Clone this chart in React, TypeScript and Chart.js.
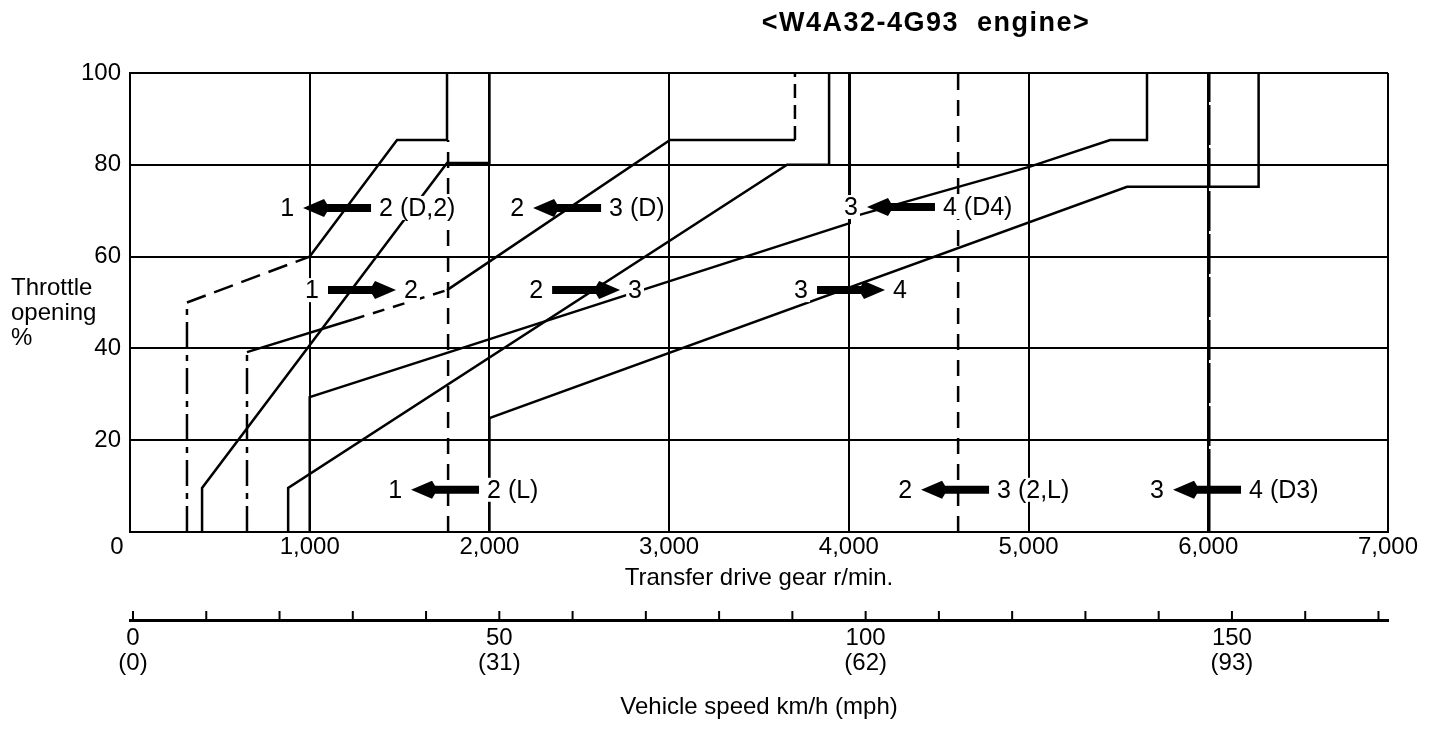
import React, { useEffect, useRef } from 'react';
import { Chart, registerables } from 'chart.js';

Chart.register(...registerables);

// ---- Axis ticks ----
const rpmTicks = [0, 1000, 2000, 3000, 4000, 5000, 6000, 7000];
const throttleTicks = [0, 20, 40, 60, 80, 100];
const speedTicksKmh = [0, 10, 20, 30, 40, 50, 60, 70, 80, 90, 100, 110, 120, 130, 140, 150, 160, 170];
const speedLabelKmh = [0, 50, 100, 150];
const speedLabelMph = [0, 31, 62, 93];

// ---- Shift lines: transfer drive gear r/min (x) vs throttle opening % (y) ----
const lineA_rpm = [317, 317, 1000, 1486, 1764, 1764];
const lineA_pct = [0, 50, 60, 85.4, 85.4, 100];
const lineB_rpm = [401, 401, 1764, 2000, 2000];
const lineB_pct = [0, 9.6, 80.4, 80.4, 100];
const lineC_rpm = [651, 651, 1240, 1764, 3005, 3700, 3700];
const lineC_pct = [0, 39.2, 46.3, 52.7, 85.4, 85.4, 100];
const lineD_rpm = [1000, 1000, 4005, 4005];
const lineD_pct = [0, 29.4, 67.3, 100];
const lineE_rpm = [880, 880, 3656, 3890, 3890];
const lineE_pct = [0, 9.6, 80, 80, 100];
const lineF_rpm = [4005, 5008, 5454, 5659, 5659];
const lineF_pct = [68.5, 79.6, 85.4, 85.4, 100];
const lineG_rpm = [2000, 2000, 5548, 6280, 6280];
const lineG_pct = [0, 24.8, 75.2, 75.2, 100];
const lineL12_rpm = [1770, 1770];
const lineL12_pct = [0, 85.4];
const line23L_rpm = [4608, 4608];
const line23L_pct = [0, 100];
const line34D3_rpm = [6004, 6004];
const line34D3_pct = [0, 100];

// ---- Shift annotations ----
const noteRpm = [1152, 2432, 4290, 1291, 2538, 4012, 1753, 4591, 5993];
const notePct = [70.6, 70.6, 70.8, 52.7, 52.7, 52.7, 9.2, 9.2, 9.2];
const noteFrom = ['1', '2', '3', '1', '2', '3', '1', '2', '3'];
const noteTo = ['2 (D,2)', '3 (D)', '4 (D4)', '2', '3', '4', '2 (L)', '3 (2,L)', '4 (D3)'];
const noteDir = ['left', 'left', 'left', 'right', 'right', 'right', 'left', 'left', 'left'];

const FONT = "'Liberation Sans', Arial, Helvetica, sans-serif";

const DASH_DOT = [26, 7, 6, 7];
const SOLID: number[] = [];

function drawArrow(ctx: CanvasRenderingContext2D, cx: number, cy: number, dir: string) {
  const len = 68, head = 24, hh = 9, sh = 4;
  const s = dir === 'left' ? -1 : 1;
  const tip = cx + (s * len) / 2;
  const tail = cx - (s * len) / 2;
  const base = tip - s * head;
  ctx.beginPath();
  ctx.moveTo(tail, cy - sh);
  ctx.lineTo(base, cy - sh);
  ctx.lineTo(base + s * 3, cy - hh);
  ctx.lineTo(tip, cy);
  ctx.lineTo(base + s * 3, cy + hh);
  ctx.lineTo(base, cy + sh);
  ctx.lineTo(tail, cy + sh);
  ctx.closePath();
  ctx.fill();
}

const overlayPlugin = {
  id: 'overlay',
  afterDatasetsDraw(chart: any) {
    const { ctx } = chart;
    const xs = chart.scales.x;
    const ys = chart.scales.y;
    const x2 = chart.scales.x2;
    ctx.save();
    ctx.fillStyle = '#000';
    ctx.strokeStyle = '#000';

    // speed axis tick marks (pointing up)
    ctx.lineWidth = 2;
    const axisY = x2.top;
    speedTicksKmh.forEach((v) => {
      const px = x2.getPixelForValue(v);
      ctx.beginPath();
      ctx.moveTo(px, axisY);
      ctx.lineTo(px, axisY - 9);
      ctx.stroke();
    });

    // annotations
    ctx.font = `25px ${FONT}`;
    ctx.textBaseline = 'middle';
    const half = 34;
    noteRpm.forEach((r, i) => {
      const cx = xs.getPixelForValue(r);
      const cy = ys.getPixelForValue(notePct[i]);
      const lx = cx - half - 9;
      const rx = cx + half + 8;
      const wl = ctx.measureText(noteFrom[i]).width;
      const wr = ctx.measureText(noteTo[i]).width;
      ctx.fillStyle = '#fff';
      ctx.fillRect(lx - wl - 2, cy - 12, wl + 4, 24);
      ctx.fillRect(rx - 2, cy - 12, wr + 4, 24);
      ctx.fillStyle = '#000';
      ctx.textAlign = 'right';
      ctx.fillText(noteFrom[i], lx, cy + 1);
      ctx.textAlign = 'left';
      ctx.fillText(noteTo[i], rx, cy + 1);
      drawArrow(ctx, cx, cy, noteDir[i]);
    });

    // origin "0"
    ctx.font = `24px ${FONT}`;
    ctx.textAlign = 'center';
    ctx.fillText('0', xs.left - 13, ys.bottom + 15);

    // y-axis caption
    ctx.textAlign = 'left';
    ctx.textBaseline = 'alphabetic';
    ctx.fillText('Throttle', 11, 295);
    ctx.fillText('opening', 11, 320);
    ctx.fillText('%', 11, 345);

    // title
    ctx.font = `bold 27px ${FONT}`;
    (ctx as any).letterSpacing = '1.5px';
    ctx.textAlign = 'center';
    ctx.fillText('<W4A32-4G93  engine>', 926, 31);
    ctx.restore();
  },
};

export default function App() {
  const ref = useRef<HTMLCanvasElement>(null);

  useEffect(() => {
    const canvas = ref.current;
    if (!canvas) return;
    Chart.defaults.font.family = FONT;
    Chart.defaults.font.size = 24;
    Chart.defaults.color = '#000';

    const mk = (label: string, xsArr: number[], ysArr: number[], dashes: number[][], width = 2.5) => ({
      label,
      data: xsArr.map((x, i) => ({ x, y: ysArr[i] })),
      showLine: true,
      borderColor: '#000',
      backgroundColor: '#000',
      borderWidth: width,
      pointRadius: 0,
      pointHoverRadius: 0,
      fill: false,
      tension: 0,
      borderCapStyle: 'butt',
      borderJoinStyle: 'miter',
      segment: {
        borderDash: (c: any) => dashes[c.p0DataIndex] ?? SOLID,
      },
    });

    const chart = new Chart(canvas, {
      type: 'scatter',
      data: {
        datasets: [
          mk('A', lineA_rpm, lineA_pct, [DASH_DOT, [20, 9], SOLID, SOLID, SOLID]),
          mk('B', lineB_rpm, lineB_pct, [SOLID, SOLID, SOLID, SOLID]),
          mk('C', lineC_rpm, lineC_pct, [DASH_DOT, SOLID, [12, 9], SOLID, SOLID, [14, 7]]),
          mk('D', lineD_rpm, lineD_pct, [SOLID, SOLID, SOLID]),
          mk('E', lineE_rpm, lineE_pct, [SOLID, SOLID, SOLID, SOLID]),
          mk('F', lineF_rpm, lineF_pct, [SOLID, SOLID, SOLID, SOLID]),
          mk('G', lineG_rpm, lineG_pct, [SOLID, SOLID, SOLID, SOLID]),
          mk('L12', lineL12_rpm, lineL12_pct, [[16, 10]]),
          mk('23L', line23L_rpm, line23L_pct, [[16, 10]]),
          mk('34D3', line34D3_rpm, line34D3_pct, [[40, 3]], 3),
        ] as any,
      },
      options: {
        animation: false,
        responsive: false,
        devicePixelRatio: 1,
        layout: { padding: { top: 73, right: 68, bottom: 0, left: 0 } },
        plugins: { legend: { display: false }, tooltip: { enabled: false }, title: { display: false } },
        events: [],
        scales: {
          x: {
            type: 'linear',
            position: 'bottom',
            weight: 0,
            min: 0,
            max: 7000,
            afterBuildTicks: (s: any) => {
              s.ticks = rpmTicks.map((v) => ({ value: v }));
            },
            afterFit: (s: any) => {
              s.height = 88;
            },
            grid: { color: '#000', lineWidth: 2, drawTicks: false },
            border: { color: '#000', width: 2 },
            ticks: {
              padding: 1,
              maxRotation: 0,
              autoSkip: false,
              font: { size: 24, lineHeight: 1.2 },
              callback: (v: any) => (v === 0 ? '' : Number(v).toLocaleString('en-US')),
            },
            title: {
              display: true,
              text: 'Transfer drive gear r/min.',
              font: { size: 24 },
              padding: { top: 0, bottom: 27 },
            },
          },
          x2: {
            type: 'linear',
            position: 'bottom',
            weight: 1,
            min: -0.41,
            max: 171.3,
            afterBuildTicks: (s: any) => {
              s.ticks = speedTicksKmh.map((v) => ({ value: v }));
            },
            afterFit: (s: any) => {
              s.height = 114;
            },
            grid: { display: true, drawOnChartArea: false, drawTicks: false, color: '#000' },
            border: { display: true, color: '#000', width: 3 },
            ticks: {
              padding: 6,
              maxRotation: 0,
              autoSkip: false,
              font: { size: 24, lineHeight: 1.04 },
              callback: (v: any) => {
                const i = speedLabelKmh.indexOf(Number(v));
                return i < 0 ? '' : [String(speedLabelKmh[i]), `(${speedLabelMph[i]})`];
              },
            },
            title: {
              display: true,
              text: 'Vehicle speed km/h (mph)',
              font: { size: 24 },
              padding: { top: 0, bottom: 12 },
            },
          },
          y: {
            type: 'linear',
            position: 'left',
            min: 0,
            max: 100,
            afterBuildTicks: (s: any) => {
              s.ticks = throttleTicks.map((v) => ({ value: v }));
            },
            afterFit: (s: any) => {
              s.width = 130;
            },
            grid: { color: '#000', lineWidth: 2, drawTicks: false },
            border: { color: '#000', width: 2 },
            ticks: {
              padding: 9,
              font: { size: 24 },
              callback: (v: any) => (v === 0 ? '' : String(v)),
            },
          },
        },
      } as any,
      plugins: [overlayPlugin],
    });

    return () => chart.destroy();
  }, []);

  return (
    <div style={{ position: 'absolute', left: 0, top: 0, width: 1456, height: 734, background: '#fff' }}>
      <canvas ref={ref} width={1456} height={734} style={{ display: 'block', width: 1456, height: 734 }} />
    </div>
  );
}
